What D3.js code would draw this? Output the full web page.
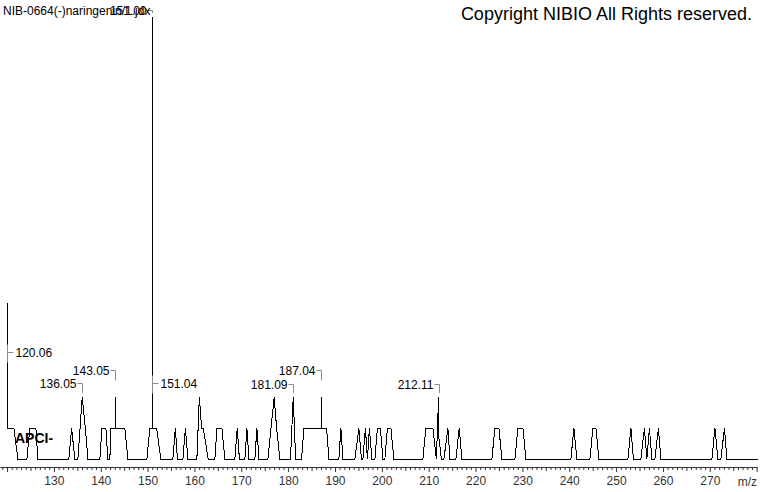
<!DOCTYPE html>
<html>
<head>
<meta charset="utf-8">
<script src="https://cdn.jsdelivr.net/npm/d3@7"></script>
<style>
  body { margin: 0; background: #fff; }
  svg { display: block; }
  text { font-family: "Liberation Sans", Arial, sans-serif; }
</style>
</head>
<body>
<div id="chart"></div>
<script>
// profile trace: m/z and relative intensity (%)
const profileMz = [
  120.06, 120.06, 121.46, 122.32, 124.24, 124.88, 126.16, 126.58,
  133.20, 133.78, 134.48, 135.12, 136.05, 136.72, 137.26,
  139.82, 140.25, 141.10, 141.53, 141.95, 142.17, 143.05, 143.05, 143.05, 145.15, 145.80,
  149.85, 150.49, 151.00, 151.00, 151.04, 151.92, 152.84,
  155.40, 155.93, 156.36, 157.54, 158.07, 158.60,
  160.52, 161.05, 161.53, 161.87, 162.94,
  164.37, 164.79, 165.86, 166.50, 168.63, 169.13, 169.60,
  170.77, 171.20, 171.62, 172.90, 173.33, 173.76,
  175.68, 177.02, 177.54, 178.24,
  180.50, 181.09, 181.60, 182.87, 183.36, 187.04, 187.04, 187.04, 188.21, 188.70,
  190.83, 191.26, 191.69, 194.25, 195.10, 195.64, 195.96, 196.49, 196.92, 197.34, 197.88,
  198.52, 199.05, 199.69, 200.23, 200.65, 201.19, 201.93, 202.57,
  208.76, 209.40, 210.90, 211.64, 212.11, 212.15, 212.71, 213.25, 214.10, 214.53,
  215.81, 216.51, 217.09, 223.49, 224.13, 224.98, 225.63,
  228.40, 229.04, 230.11, 230.75,
  240.35, 240.99, 241.63, 244.41, 245.05, 245.69, 246.33,
  252.52, 253.16, 253.69, 255.29, 256.04, 256.57, 257.11, 257.64,
  258.28, 259.03, 259.56, 270.45, 271.09, 271.73, 272.37, 273.12, 273.65, 280.27
];
const profileInt = [
  35.3, 7, 7, 0, 0, 7, 7, 0,
  0, 7, 0, 0, 14, 7, 0,
  0, 7, 7, 0, 0, 7, 7, 14, 7, 7, 0,
  0, 7, 7, 100, 7, 7, 0,
  0, 7, 0, 0, 7, 0,
  0, 14, 7, 7, 0,
  0, 7, 7, 0, 0, 7, 0,
  0, 7, 0, 0, 7, 0,
  0, 14, 7, 0,
  0, 14, 0, 0, 7, 7, 14, 7, 7, 0,
  0, 7, 0, 0, 7, 0, 0, 7, 0, 7, 0,
  0, 7, 7, 0, 0, 7, 7, 0,
  0, 7, 7, 0, 14, 5, 0, 0, 7, 0,
  0, 7, 0, 0, 7, 7, 0,
  0, 7, 7, 0,
  0, 7, 0, 0, 7, 7, 0,
  0, 7, 0, 0, 7, 0, 7, 0,
  0, 7, 0, 0, 7, 0, 0, 7, 0, 0
];

// annotated peaks
const peakText = ["120.06", "136.05", "143.05", "151.04", "181.09", "187.04", "212.11", "151.00"];
const peakMz   = [120.06, 136.05, 143.05, 151.04, 181.09, 187.04, 212.11, 151.00];
const peakTop  = [35.3, 14, 14, 14, 14, 14, 14, 100];

const xTicks = d3.range(130, 280, 10);

const title = "NIB-0664(-)naringenin/1.jdx";
const copyright = "Copyright NIBIO All Rights reserved.";
const ionMode = "APCI-";

const width = 760, height = 492;
const baseY = 459, topY = 17, axisY = 467;

const svg = d3.select("#chart").append("svg")
    .attr("width", width)
    .attr("height", height);

const x = d3.scaleLinear().domain([118.5, 280.2]).range([0, 757.6]);
const y = d3.scaleLinear().domain([0, 100]).range([baseY, topY]);

// x axis, one tick per unit
const axis = d3.axisBottom(x)
    .tickValues(d3.range(119, 281))
    .tickSizeOuter(0)
    .tickFormat(d => xTicks.includes(d) ? d : "");
const gx = svg.append("g")
    .attr("transform", "translate(0," + axisY + ")")
    .call(axis);
gx.select(".domain").attr("stroke", "#333").attr("d", "M0.5,0.5H757.5");
gx.selectAll(".tick line")
    .attr("stroke", "#333")
    .attr("y2", d => d % 10 === 0 ? 5 : (d % 5 === 0 ? 4 : 3));
gx.selectAll(".tick text")
    .attr("y", 9)
    .attr("fill", "#333")
    .attr("font-size", "12px")
    .attr("font-family", "Liberation Sans, Arial, sans-serif");
svg.append("text")
    .attr("x", 757).attr("y", 486)
    .attr("text-anchor", "end")
    .attr("font-size", "12px")
    .attr("fill", "#333")
    .text("m/z");

// spectrum profile
const pts = profileMz.map((m, i) => [m, profileInt[i]]);
const line = d3.line().x(d => x(d[0])).y(d => y(d[1]));
svg.append("path")
    .datum(pts)
    .attr("d", line)
    .attr("fill", "none")
    .attr("stroke", "#000")
    .attr("stroke-width", 1)
    .attr("shape-rendering", "crispEdges");

// peak labels: side and text level in % intensity
const labelLayout = {
  "120.06": {side: "right", level: 24.2},
  "136.05": {side: "left", level: 17.2},
  "143.05": {side: "left", level: 20.1},
  "151.04": {side: "right", level: 17.2},
  "181.09": {side: "left", level: 17.0},
  "187.04": {side: "left", level: 20.1},
  "212.11": {side: "left", level: 17.0},
  "151.00": {side: "left", level: 101.5}
};
const lab = svg.append("g");
peakText.forEach((t, i) => {
  const L = labelLayout[t];
  const px = Math.round(x(peakMz[i])) + 0.5;
  const ty = Math.round(y(L.level)) + 0.5;
  const gray = "#8c8c8c";
  if (L.side === "left") {
    lab.append("path")
      .attr("d", "M" + (px - 5) + "," + ty + "H" + px + "V" + Math.min(y(peakTop[i]) - 4, ty + 10))
      .attr("fill", "none").attr("stroke", gray);
    lab.append("text")
      .attr("x", px - 6).attr("y", ty + 4)
      .attr("text-anchor", "end")
      .attr("font-size", "12px")
      .text(t);
  } else {
    lab.append("path")
      .attr("d", "M" + px + "," + (ty - 8) + "V" + (ty + 10) + "M" + px + "," + ty + "H" + (px + 6))
      .attr("fill", "none").attr("stroke", gray);
    lab.append("text")
      .attr("x", px + 8).attr("y", ty + 4)
      .attr("font-size", "12px")
      .text(t);
  }
});

// header texts
svg.append("text")
    .attr("x", 3).attr("y", 15)
    .attr("font-size", "12px")
    .text(title);
svg.append("text")
    .attr("x", 752).attr("y", 20)
    .attr("text-anchor", "end")
    .attr("font-size", "18px")
    .text(copyright);
svg.append("text")
    .attr("x", 15).attr("y", 443)
    .attr("font-size", "14px")
    .attr("font-weight", "bold")
    .text(ionMode);
</script>
</body>
</html>
